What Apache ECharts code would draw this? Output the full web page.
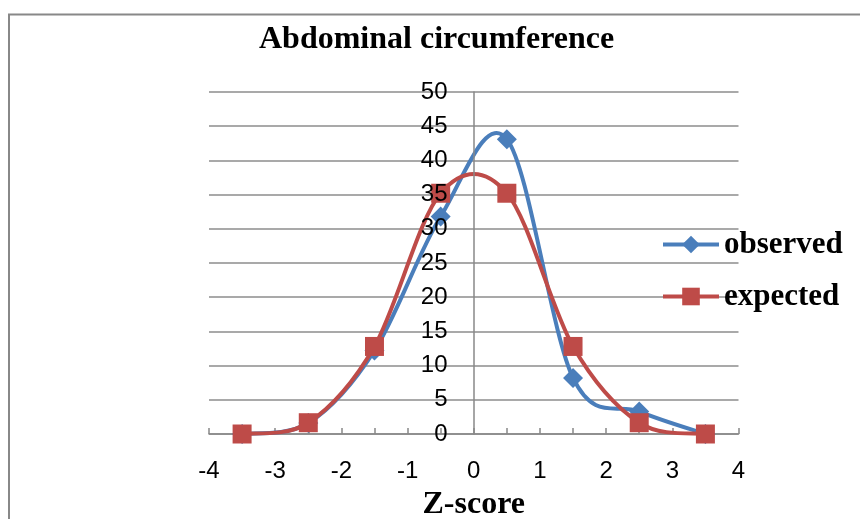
<!DOCTYPE html>
<html>
<head>
<meta charset="utf-8">
<script src="https://cdn.jsdelivr.net/npm/echarts@6/dist/echarts.min.js"></script>
<style>html,body{margin:0;padding:0;background:#fff}#c{width:860px;height:519px}</style>
</head>
<body>
<div id="c"></div>
<script>
var zScores = [-3.5, -2.5, -1.5, -0.5, 0.5, 1.5, 2.5, 3.5];
var observed = [0, 1.6, 12.2, 31.8, 43.1, 8.2, 3.3, 0];
var expected = [0, 1.65, 12.8, 35.2, 35.2, 12.8, 1.65, 0];
var xTicks = [-4, -3, -2, -1, 0, 1, 2, 3, 4];
var yTicks = [0, 5, 10, 15, 20, 25, 30, 35, 40, 45, 50];

var BLUE = '#4A7EBB', RED = '#BE4B48';

function pairs(xs, ys) { return xs.map(function (x, i) { return [x, ys[i]]; }); }

// Smoothed (Excel-like Catmull-Rom Bezier) curve drawn through the library's coordinate system
function smoothCurve(data, color) {
  return function (params, api) {
    var i = params.dataIndex, n = data.length;
    if (i >= n - 1) return null;
    var p = data.map(function (d) { return api.coord(d); });
    var P0 = p[Math.max(i - 1, 0)], P1 = p[i], P2 = p[i + 1], P3 = p[Math.min(i + 2, n - 1)];
    return {
      type: 'bezierCurve',
      shape: {
        x1: P1[0], y1: P1[1], x2: P2[0], y2: P2[1],
        cpx1: P1[0] + (P2[0] - P0[0]) / 6, cpy1: P1[1] + (P2[1] - P0[1]) / 6,
        cpx2: P2[0] - (P3[0] - P1[0]) / 6, cpy2: P2[1] - (P3[1] - P1[1]) / 6
      },
      style: {stroke: color, lineWidth: 4, fill: null, lineCap: 'round'}
    };
  };
}

var obsData = pairs(zScores, observed);
var expData = pairs(zScores, expected);

var chart = echarts.init(document.getElementById('c'), null, {renderer: 'canvas'});
var serif = '"Liberation Serif", "Times New Roman", serif';
var sans = '"Liberation Sans", Arial, sans-serif';
var yMin = yTicks[0], yMax = yTicks[yTicks.length - 1];
chart.setOption({
  animation: false,
  backgroundColor: '#fff',
  title: {
    text: 'Abdominal circumference',
    left: 254, top: 19,
    textStyle: {fontFamily: serif, fontWeight: 'bold', fontSize: 32, color: '#000'}
  },
  graphic: [{
    type: 'rect', silent: true,
    shape: {x: 9, y: 14.5, width: 900, height: 600},
    style: {fill: null, stroke: '#888', lineWidth: 2}
  }],
  grid: {left: 209, right: 121.5, top: 92, bottom: 85, outerBoundsMode: 'none', containLabel: false},
  legend: {
    orient: 'vertical', left: 656, top: 224,
    itemWidth: 56, itemHeight: 22, itemGap: 21,
    textStyle: {fontFamily: serif, fontWeight: 'bold', fontSize: 31, color: '#000'},
    data: [
      {name: 'observed', lineStyle: {color: BLUE, width: 4, opacity: 1}},
      {name: 'expected', lineStyle: {color: RED, width: 4, opacity: 1}}
    ]
  },
  xAxis: {
    type: 'value', min: xTicks[0], max: xTicks[xTicks.length - 1], interval: 0.5,
    name: 'Z-score', nameLocation: 'middle', nameGap: 55,
    nameTextStyle: {fontFamily: serif, fontWeight: 'bold', fontSize: 32, color: '#000'},
    axisLine: {onZero: true, lineStyle: {color: '#888', width: 1.5}},
    axisTick: {show: true, inside: true, length: 6, lineStyle: {color: '#888', width: 1.5}},
    axisLabel: {
      margin: 25, fontFamily: sans, fontSize: 24, color: '#000',
      formatter: function (v) { return xTicks.indexOf(v) >= 0 ? String(v) : ''; }
    },
    splitLine: {show: false}
  },
  yAxis: [{
    // gridlines (drawn beneath the series)
    type: 'value', min: yMin, max: yMax, interval: 5,
    axisLine: {show: false}, axisTick: {show: false}, axisLabel: {show: false},
    splitLine: {show: true, lineStyle: {color: '#8c8c8c', width: 1.5}}
  }, {
    // axis line and labels at x = 0 (drawn above the series, like the original)
    type: 'value', min: yMin, max: yMax, interval: 5, z: 10,
    position: 'left', offset: -264.5,
    axisLine: {show: true, onZero: false, lineStyle: {color: '#888', width: 1.5}},
    axisTick: {show: false},
    axisLabel: {margin: 26, fontFamily: sans, fontSize: 24, color: '#000'},
    splitLine: {show: false}
  }],
  series: [{
    name: 'observedCurve', type: 'custom', data: obsData, yAxisIndex: 0,
    encode: {x: 0, y: 1}, renderItem: smoothCurve(obsData, BLUE), z: 2, silent: true
  }, {
    name: 'observed', type: 'line', data: obsData, yAxisIndex: 0,
    symbol: 'diamond', symbolSize: 20,
    lineStyle: {color: BLUE, width: 4, opacity: 0},
    itemStyle: {color: BLUE},
    z: 3
  }, {
    name: 'expectedCurve', type: 'custom', data: expData, yAxisIndex: 0,
    encode: {x: 0, y: 1}, renderItem: smoothCurve(expData, RED), z: 4, silent: true
  }, {
    name: 'expected', type: 'line', data: expData, yAxisIndex: 0,
    symbol: 'rect', symbolSize: 19,
    lineStyle: {color: RED, width: 4, opacity: 0},
    itemStyle: {color: RED},
    z: 5
  }]
});
</script>
</body>
</html>
